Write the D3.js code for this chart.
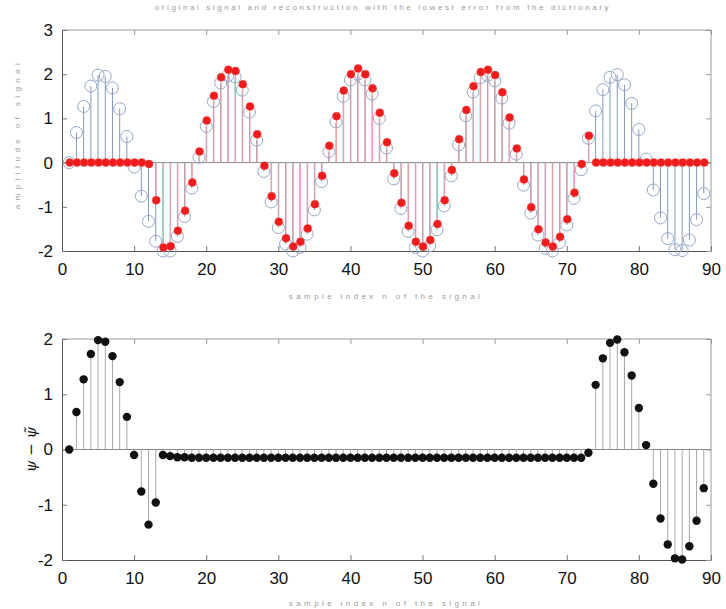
<!DOCTYPE html>
<html><head><meta charset="utf-8">
<script src="https://cdn.jsdelivr.net/npm/d3@7"></script>
<style>body{margin:0;background:#fff}svg{display:block}</style>
</head><body>
<script>
// ---- data ----
const n = d3.range(1, 90);
const psiTrue = [0,0.68,1.27,1.73,1.98,1.95,1.69,1.22,0.59,-0.1,-0.76,-1.33,-1.78,-2.0,-2.0,-1.67,-1.22,-0.58,0.12,0.82,1.38,1.8,1.97,1.94,1.64,1.14,0.51,-0.2,-0.89,-1.47,-1.84,-2.0,-1.92,-1.62,-1.07,-0.43,0.25,0.92,1.5,1.87,2.0,1.87,1.55,1.0,0.33,-0.37,-1.04,-1.56,-1.92,-2.0,-1.88,-1.52,-0.98,-0.3,0.4,1.06,1.6,1.92,1.97,1.85,1.46,0.89,0.19,-0.51,-1.14,-1.64,-1.94,-2.0,-1.81,-1.41,-0.81,-0.16,0.55,1.17,1.65,1.93,1.99,1.76,1.34,0.75,0.08,-0.62,-1.25,-1.72,-1.97,-1.99,-1.75,-1.29,-0.7];
const psiRec = [0,0,0,0,0,0,0,0,0,0,0,-0.03,-0.85,-1.92,-1.89,-1.54,-1.09,-0.45,0.25,0.95,1.51,1.93,2.1,2.07,1.77,1.27,0.64,-0.07,-0.76,-1.34,-1.71,-1.9,-1.79,-1.49,-0.94,-0.3,0.38,1.05,1.63,2.0,2.13,2.0,1.68,1.13,0.46,-0.24,-0.91,-1.43,-1.79,-1.9,-1.75,-1.39,-0.85,-0.17,0.53,1.19,1.73,2.05,2.1,1.98,1.59,1.02,0.32,-0.38,-1.01,-1.51,-1.81,-1.9,-1.68,-1.28,-0.68,-0.03,0.61,0,0,0,0,0,0,0,0,0,0,0,0,0,0,0,0];
const diff = [0,0.68,1.27,1.73,1.98,1.95,1.69,1.22,0.59,-0.1,-0.76,-1.36,-0.96,-0.1,-0.12,-0.14,-0.14,-0.15,-0.15,-0.15,-0.15,-0.15,-0.15,-0.15,-0.15,-0.15,-0.15,-0.15,-0.15,-0.15,-0.15,-0.15,-0.15,-0.15,-0.15,-0.15,-0.15,-0.15,-0.15,-0.15,-0.15,-0.15,-0.15,-0.15,-0.15,-0.15,-0.15,-0.15,-0.15,-0.15,-0.15,-0.15,-0.15,-0.15,-0.15,-0.15,-0.15,-0.15,-0.15,-0.15,-0.15,-0.15,-0.15,-0.15,-0.15,-0.15,-0.15,-0.15,-0.15,-0.15,-0.15,-0.15,-0.06,1.17,1.65,1.93,1.99,1.76,1.34,0.75,0.08,-0.62,-1.25,-1.72,-1.97,-1.99,-1.75,-1.29,-0.7];
const xTicks = [0,10,20,30,40,50,60,70,80,90];
const yTicksTop = [-2,-1,0,1,2,3];
const yTicksBot = [-2,-1,0,1,2];
const titleText = "original signal and reconstruction with the lowest error from the dictionary";
const xLabelText = "sample index n of the signal";
const yLabelTopText = "amplitude of signal";
const yLabelBot = "\u03C8 \u2212 \u03C8\u0303";

// ---- layout ----
const W = 726, H = 609;
const svg = d3.select("body").append("svg").attr("width", W).attr("height", H)
  .style("font-family", "'Liberation Sans', Arial, sans-serif");

const x = d3.scaleLinear().domain([0, 90]).range([62, 711]);
const yT = d3.scaleLinear().domain([-2, 3]).range([251, 30]);
const yB = d3.scaleLinear().domain([-2, 2]).range([560, 339]);
const fmt = d => String(d);

function frame(y, yt, bottomLabelY) {
  const g = svg.append("g");
  const [y0, y1] = y.range();
  g.append("line").attr("x1", x(0)).attr("x2", x(90)).attr("y1", y1).attr("y2", y1).attr("stroke", "#9a9a9a");
  g.append("line").attr("x1", x(90)).attr("x2", x(90)).attr("y1", y0).attr("y2", y1).attr("stroke", "#9a9a9a");
  const ax = g.append("g").attr("transform", `translate(0,${y0})`)
    .call(d3.axisBottom(x).tickValues(xTicks).tickSize(-5).tickPadding(12).tickSizeOuter(0).tickFormat(fmt));
  ax.select(".domain").attr("stroke", "#555");
  ax.selectAll(".tick line").attr("stroke", "#777");
  ax.selectAll("text").attr("font-size", 17).attr("fill", "#111");
  g.append("g").attr("transform", `translate(0,${y1})`)
    .call(d3.axisTop(x).tickValues(xTicks).tickSize(-5).tickFormat("").tickSizeOuter(0))
    .call(s => { s.select(".domain").remove(); s.selectAll("line").attr("stroke", "#999"); });
  const ay = g.append("g").attr("transform", `translate(${x(0)},0)`)
    .call(d3.axisLeft(y).tickValues(yt).tickSize(-5).tickPadding(9).tickSizeOuter(0).tickFormat(fmt));
  ay.select(".domain").attr("stroke", "#555");
  ay.selectAll(".tick line").attr("stroke", "#777");
  ay.selectAll("text").attr("font-size", 17).attr("fill", "#111");
  g.append("g").attr("transform", `translate(${x(90)},0)`)
    .call(d3.axisRight(y).tickValues(yt).tickSize(-5).tickFormat("").tickSizeOuter(0))
    .call(s => { s.select(".domain").remove(); s.selectAll("line").attr("stroke", "#999"); });
  g.append("line").attr("x1", x(0)).attr("x2", x(90)).attr("y1", y(0)).attr("y2", y(0))
    .attr("stroke", "#8a8a8a").attr("stroke-width", 1);
  svg.append("text").attr("x", 386).attr("y", bottomLabelY).attr("text-anchor", "middle")
    .attr("font-size", 8).attr("fill", "#9a9a9a").attr("letter-spacing", 3.4).text(xLabelText);
}

// ---- top panel ----
frame(yT, yTicksTop, 299);
svg.append("text").attr("x", 383).attr("y", 10).attr("text-anchor", "middle")
  .attr("font-size", 8).attr("fill", "#9a9a9a").attr("letter-spacing", 2.6).text(titleText);
svg.append("text").attr("transform", "translate(20,134) rotate(-90)").attr("text-anchor", "middle")
  .attr("font-size", 8).attr("fill", "#a0a0a0").attr("letter-spacing", 4.4).text(yLabelTopText);

const gTop = svg.append("g");
gTop.selectAll(".sb").data(n).join("line")
  .attr("x1", d => x(d)).attr("x2", d => x(d))
  .attr("y1", yT(0)).attr("y2", (d, i) => yT(psiTrue[i]))
  .attr("stroke", "#8599bd").attr("stroke-width", 1);
gTop.selectAll(".sr").data(n).join("line")
  .attr("x1", d => x(d) + 0.5).attr("x2", d => x(d) + 0.5)
  .attr("y1", yT(0)).attr("y2", (d, i) => yT(psiRec[i]))
  .attr("stroke", "#f2a0a4").attr("stroke-width", 1);
gTop.selectAll(".cb").data(n).join("circle")
  .attr("cx", d => x(d)).attr("cy", (d, i) => yT(psiTrue[i])).attr("r", 6)
  .attr("fill", "none").attr("stroke", "#96a8c6").attr("stroke-width", 1);
gTop.selectAll(".cr").data(n).join("circle")
  .attr("cx", d => x(d) + 0.5).attr("cy", (d, i) => yT(psiRec[i])).attr("r", 4)
  .attr("fill", "#ee1c1c").attr("stroke", "#f04a4a").attr("stroke-width", 0.5);

// ---- bottom panel ----
frame(yB, yTicksBot, 606);
svg.append("text").attr("transform", `translate(36,${yB(0)}) rotate(-90)`).attr("text-anchor", "middle")
  .attr("font-size", 15).attr("font-style", "italic")
  .attr("font-family", "'DejaVu Serif', serif").attr("fill", "#111").text(yLabelBot);

const gBot = svg.append("g");
gBot.selectAll(".sd").data(n).join("line")
  .attr("x1", d => x(d)).attr("x2", d => x(d))
  .attr("y1", yB(0)).attr("y2", (d, i) => yB(diff[i]))
  .attr("stroke", "#a8a8a8").attr("stroke-width", 1);
gBot.selectAll(".cd").data(n).join("circle")
  .attr("cx", d => x(d)).attr("cy", (d, i) => yB(diff[i])).attr("r", 4.2)
  .attr("fill", "#111");
</script>
</body></html>
